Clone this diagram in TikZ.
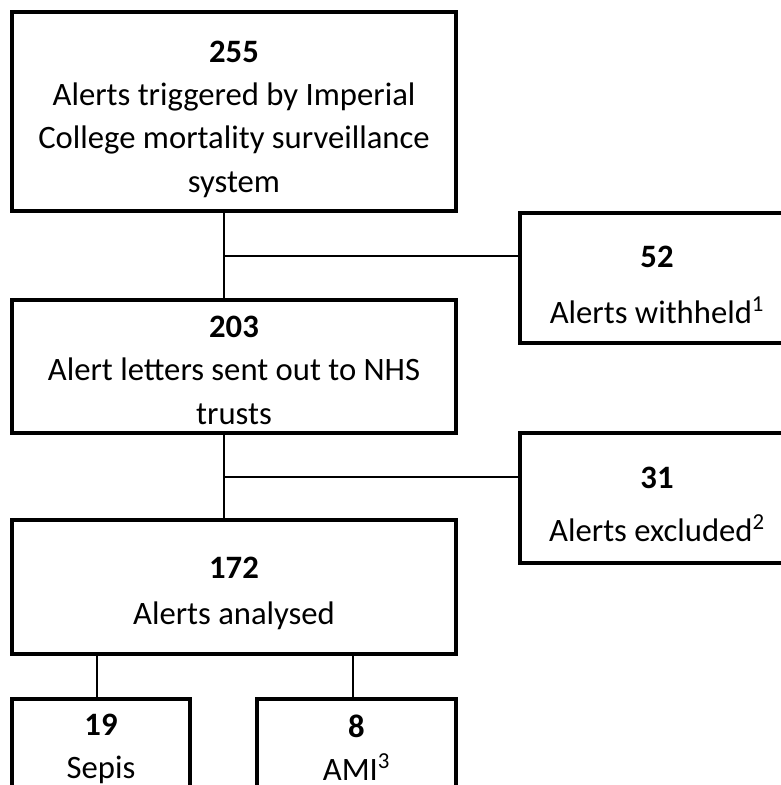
\documentclass[tikz,border=0pt]{standalone}
\usepackage{fontspec}
\setmainfont{Carlito}
% bold count on the first line, raised by a strut of the given height
\newcommand{\headnum}[2]{\rule{0pt}{#1}\textbf{#2}}
\begin{document}
\begin{tikzpicture}[x=0.75pt,y=0.75pt,yscale=-1,xscale=1,
  box/.style={draw=black, line width=3pt, fill=white, align=center, inner sep=0pt,
    font=\fontsize{24.5}{32.5}\selectfont},
  sidebox/.style={box, minimum width=205.5pt, minimum height=97.5pt},
  link/.style={draw=black, line width=1.2pt}]
%set diagram size to 781 x 785
\clip (0,0) rectangle (781,785);

%Shape: Rectangle [main column]
\node[box, minimum width=333pt, minimum height=149.25pt] (trig) at (234,111.5)
  {\headnum{27.5pt}{255}\\Alerts triggered by Imperial\\College mortality surveillance\\system};
\node[box, minimum width=333pt, minimum height=99.75pt] (sent) at (234,366.5)
  {\headnum{21.5pt}{203}\\Alert letters sent out to NHS\\trusts};
\node[box, minimum width=333pt, minimum height=100.5pt] (anal) at (234,587)
  {\headnum{25.2pt}{172}\\[2.25pt]Alerts analysed};

%Shape: Rectangle [side boxes]
\node[sidebox] (held) at (657,278) {\headnum{26.7pt}{52}\\[9.25pt]Alerts withheld\textsuperscript{1}};
\node[sidebox] (excl) at (657,497.5) {\headnum{26pt}{31}\\[7pt]Alerts excluded\textsuperscript{2}};

%Shape: Rectangle [bottom row]
\node[box, minimum width=133.5pt, minimum height=73.5pt] (sepis) at (101,748) {\headnum{17pt}{19}\\Sepis};
\node[box, minimum width=149.25pt, minimum height=73.5pt] (ami) at (356.5,748) {\textbf{8}\\AMI\textsuperscript{3}};

%Straight Lines
\coordinate (j1) at (224,256);
\coordinate (j2) at (224,477);
\draw[link] (trig.south -| j1) -- (sent.north -| j1);
\draw[link] (j1) -- (held.west |- j1);
\draw[link] (sent.south -| j2) -- (anal.north -| j2);
\draw[link] (j2) -- (excl.west |- j2);
\draw[link] (anal.south -| 97,0) -- (sepis.north -| 97,0);
\draw[link] (anal.south -| 353,0) -- (ami.north -| 353,0);

\end{tikzpicture}
\end{document}
